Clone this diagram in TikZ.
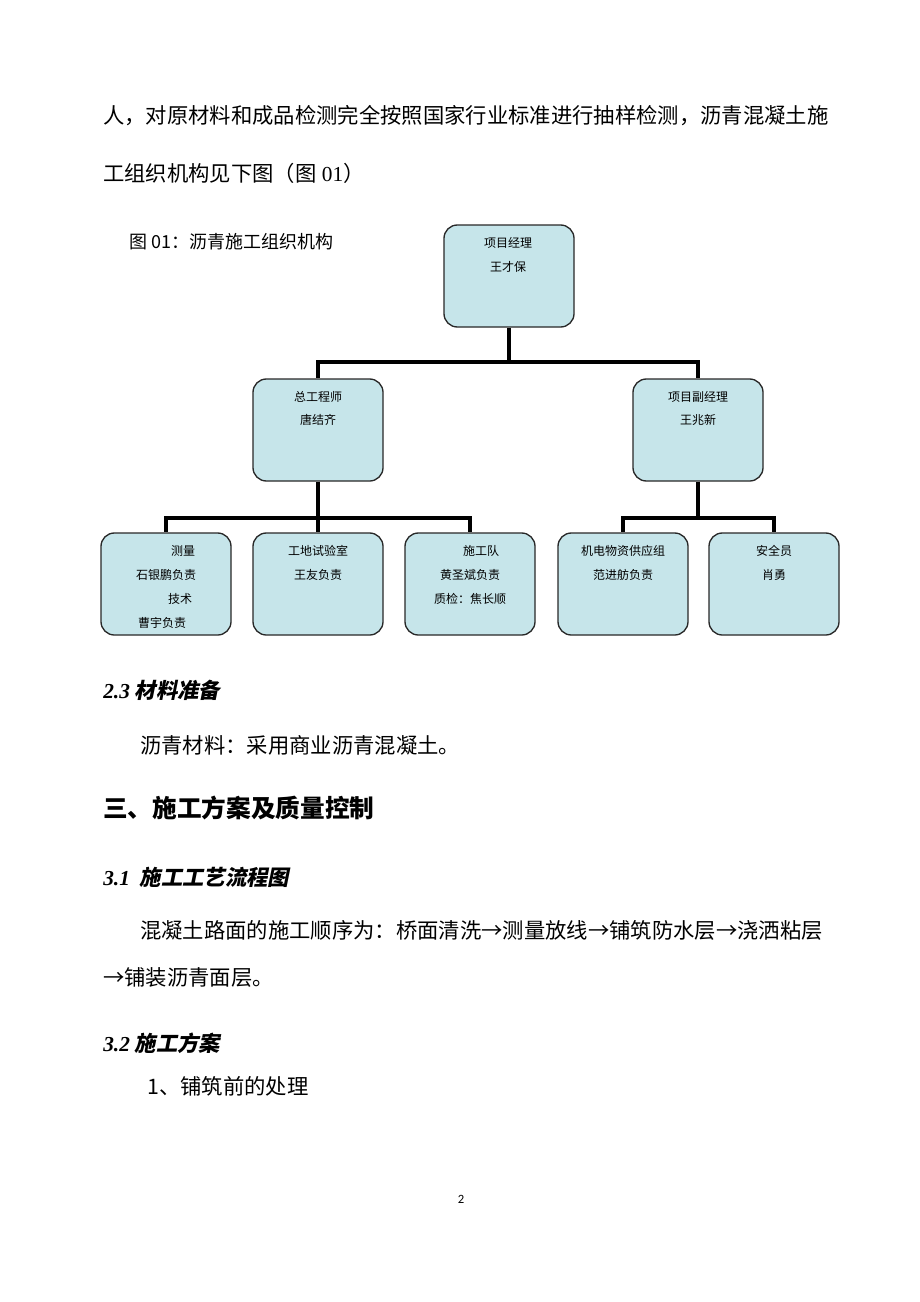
\documentclass[tikz,border=0pt]{standalone}
\usepackage{fontspec}
\setmainfont{Noto Sans CJK SC}[AutoFakeSlant=0.2]
\newfontfamily\cjkhead{Noto Sans CJK SC}[BoldFeatures={FakeSlant=0.2}]
\newfontfamily\tnr{Liberation Serif}
\newfontfamily\pgnum{Carlito}
\definecolor{boxfill}{RGB}{198,229,234}
\definecolor{boxline}{RGB}{40,40,40}
\begin{document}
\begin{tikzpicture}[x=0.75pt,y=-0.75pt,
  orgbox/.style={draw=boxline, line width=1pt, fill=boxfill, rounded corners=10pt,
    minimum width=97.5pt, minimum height=76.5pt, inner sep=0pt},
  boxtxt/.style={font=\fontsize{9}{9}\selectfont, inner sep=0pt},
  body/.style={font=\fontsize{16}{16}\selectfont, inner sep=0pt, anchor=west},
  head/.style={font=\fontsize{16}{16}\selectfont\cjkhead\bfseries, inner sep=0pt, anchor=west},
  link/.style={line width=2.3pt}]
\useasboundingbox[fill=white] (0,0) rectangle (920,1302);

% body text
\node[body] (t1) at (103,116) {人，对原材料和成品检测完全按照国家行业标准进行抽样检测，沥青混凝土施};
\node[body] (t2) at (103,173) {工组织机构见下图（图{\tnr\ 01}）};
\node[font=\fontsize{13.5}{13.5}\selectfont, inner sep=0pt, anchor=west] (cap) at (129,242) {图 01：沥青施工组织机构};

% boxes
\node[orgbox] (pm) at (509,276) {};
\node[orgbox] (ce) at (318,430) {};
\node[orgbox] (dpm) at (698,430) {};
\node[orgbox] (b1) at (166,584) {};
\node[orgbox] (b2) at (318,584) {};
\node[orgbox] (b3) at (470,584) {};
\node[orgbox] (b4) at (623,584) {};
\node[orgbox] (b5) at (774,584) {};

% connectors
\coordinate (j0) at (509,362);
\coordinate (j1) at (318,518);
\coordinate (j2) at (698,518);
\draw[link] (pm.south) -- (j0);
\draw[link] (j0) -| (ce.north);
\draw[link] (j0) -| (dpm.north);
\draw[link] (ce.south) -- (j1);
\draw[link] (j1) -| (b1.north);
\draw[link] (j1) -- (b2.north);
\draw[link] (j1) -| (b3.north);
\draw[link] (dpm.south) -- (j2);
\draw[link] (j2) -| (b4.north);
\draw[link] (j2) -| (b5.north);

% box texts
\node[boxtxt] (pm1) at (508,243) {项目经理};
\node[boxtxt] (pm2) at (508,267) {王才保};
\node[boxtxt] (ce1) at (318,397) {总工程师};
\node[boxtxt] (ce2) at (318,420) {唐结齐};
\node[boxtxt] (dp1) at (698,397) {项目副经理};
\node[boxtxt] (dp2) at (698,420) {王兆新};
\node[boxtxt] (b11) at (183,551) {测量};
\node[boxtxt] (b12) at (166,575) {石银鹏负责};
\node[boxtxt] (b13) at (180,599) {技术};
\node[boxtxt] (b14) at (162,623) {曹宇负责};
\node[boxtxt] (b21) at (318,551) {工地试验室};
\node[boxtxt] (b22) at (318,575) {王友负责};
\node[boxtxt] (b31) at (481,551) {施工队};
\node[boxtxt] (b32) at (470,575) {黄圣斌负责};
\node[boxtxt] (b33) at (470,599) {质检：焦长顺};
\node[boxtxt] (b41) at (623,551) {机电物资供应组};
\node[boxtxt] (b42) at (623,575) {范进舫负责};
\node[boxtxt] (b51) at (774,551) {安全员};
\node[boxtxt] (b52) at (774,575) {肖勇};

% lower text
\node[head] (h23) at (103,690) {{\tnr\bfseries\itshape 2.3} 材料准备};
\node[body] (t3) at (140,745) {沥青材料：采用商业沥青混凝土。};
\node[font=\fontsize{18.5}{18.5}\selectfont\bfseries, inner sep=0pt, anchor=west] (h3) at (103,808) {三、施工方案及质量控制};
\node[head] (h31) at (103,877) {{\tnr\bfseries\itshape 3.1}\ \ 施工工艺流程图};
\node[body] (t4) at (140,930) {混凝土路面的施工顺序为：桥面清洗→测量放线→铺筑防水层→浇洒粘层};
\node[body] (t5) at (103,977) {→铺装沥青面层。};
\node[head] (h32) at (103,1043) {{\tnr\bfseries\itshape 3.2} 施工方案};
\node[body] (t6) at (147,1086) {1、铺筑前的处理};
\node[font=\pgnum\fontsize{9.5}{9.5}\selectfont, inner sep=0pt] (pg) at (461,1199) {2};
\end{tikzpicture}
\end{document}
